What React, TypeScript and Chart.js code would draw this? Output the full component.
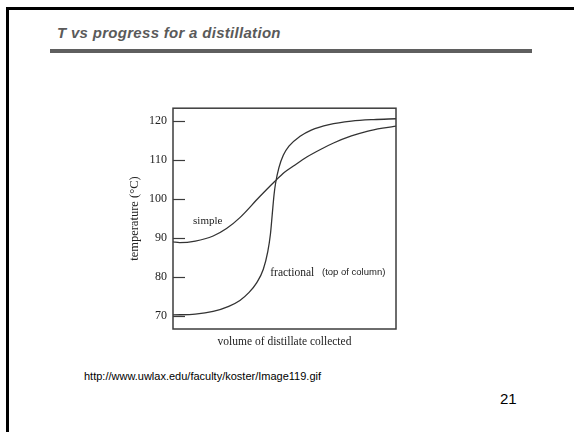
import React, { useEffect, useRef } from "react";
import { Chart, registerables } from "chart.js";

Chart.register(...registerables);

const TITLE = "T vs progress for a distillation";
const SOURCE = "http://www.uwlax.edu/faculty/koster/Image119.gif";
const PAGE = "21";
const X_TITLE = "volume of distillate collected";
const Y_TITLE = "temperature (°C)";
const Y_TICKS = [70, 80, 90, 100, 110, 120];

// x: share of distillate collected (0-100, unitless), T in °C
const simpleX = [0, 3, 10, 18, 24, 30, 38.6, 45.7, 50, 54, 60, 67, 72, 80, 87, 94, 100];
const simpleT = [89, 88.8, 89.2, 90.5, 92.4, 95.2, 100.4, 104.5, 106.8, 108.4, 110.7, 112.9, 114.3, 116.1, 117.3, 118.1, 118.6];

const fracX = [0, 10, 18, 25, 30, 34, 37.5, 40.5, 42.5, 43.7, 44.5, 45.3, 46, 47.5, 49.5, 52, 57, 62, 70, 80, 90, 100];
const fracT = [70.3, 70.5, 71.2, 72.5, 74, 76, 78.5, 82, 86.5, 91, 96, 101, 104, 108, 111.2, 113.5, 116, 117.6, 119, 119.9, 120.3, 120.5];

const SERIF = '"Liberation Serif", "DejaVu Serif", serif';
const SANS = '"Liberation Sans", Arial, sans-serif';

const CURVE_LABELS = [
  { text: "simple", x: 9, y: 94.4, font: `11px ${SERIF}` },
  { text: "fractional", x: 43.6, y: 81.1, font: `11.5px ${SERIF}` },
  { text: "(top of column)", x: 66.8, y: 81.1, font: `9.5px ${SANS}` },
];

const framePlugin = {
  id: "frameAndTicks",
  afterDatasetsDraw(chart: any) {
    const { ctx, chartArea, scales } = chart;
    const { left, top, right, bottom } = chartArea;
    const y = scales.y;
    const x = scales.x;
    ctx.save();
    ctx.strokeStyle = "#3c3c3c";
    ctx.lineWidth = 1.5;
    ctx.strokeRect(left, top, right - left, bottom - top);
    ctx.lineWidth = 1.2;
    Y_TICKS.forEach((v) => {
      const py = Math.round(y.getPixelForValue(v)) + 0.5;
      ctx.beginPath();
      ctx.moveTo(left, py);
      ctx.lineTo(left + 12, py);
      ctx.stroke();
    });
    ctx.fillStyle = "#222";
    ctx.textBaseline = "middle";
    ctx.textAlign = "left";
    CURVE_LABELS.forEach((l) => {
      ctx.font = l.font;
      ctx.fillText(l.text, x.getPixelForValue(l.x), y.getPixelForValue(l.y));
    });
    ctx.restore();
  },
};

function DistillationChart() {
  const ref = useRef<HTMLCanvasElement | null>(null);
  useEffect(() => {
    if (!ref.current) return;
    const chart = new Chart(ref.current, {
      type: "line",
      data: {
        datasets: [
          {
            label: "simple",
            data: simpleX.map((v, i) => ({ x: v, y: simpleT[i] })),
            borderColor: "#333",
            borderWidth: 1.3,
            pointRadius: 0,
            cubicInterpolationMode: "monotone",
            fill: false,
          },
          {
            label: "fractional",
            data: fracX.map((v, i) => ({ x: v, y: fracT[i] })),
            borderColor: "#333",
            borderWidth: 1.3,
            pointRadius: 0,
            cubicInterpolationMode: "monotone",
            fill: false,
          },
        ],
      },
      options: {
        responsive: false,
        animation: false,
        layout: { padding: { top: 13, right: 24, left: 0, bottom: 0 } },
        plugins: { legend: { display: false }, tooltip: { enabled: false } },
        scales: {
          x: {
            type: "linear",
            min: 0,
            max: 100,
            grid: { display: false, drawTicks: false, tickLength: 0 },
            border: { display: false },
            ticks: { display: false },
            title: {
              display: true,
              text: X_TITLE,
              color: "#222",
              font: { family: SERIF, size: 11.5 },
              padding: { top: 0, bottom: 11 },
            },
            afterFit: (s: any) => {
              s.height = 31;
            },
          },
          y: {
            type: "linear",
            min: 66.7,
            max: 123.2,
            grid: { display: false, drawTicks: false, tickLength: 0 },
            border: { display: false },
            afterBuildTicks: (s: any) => {
              s.ticks = Y_TICKS.map((v) => ({ value: v }));
            },
            ticks: {
              color: "#222",
              padding: 6,
              font: { family: SERIF, size: 12 },
            },
            title: {
              display: true,
              text: Y_TITLE,
              color: "#222",
              font: { family: SERIF, size: 12.5 },
              padding: { top: 7, bottom: 0 },
            },
            afterFit: (s: any) => {
              s.width = 53;
            },
          },
        },
      },
      plugins: [framePlugin],
    } as any);
    return () => chart.destroy();
  }, []);
  return (
    <canvas
      ref={ref}
      width={300}
      height={265}
      style={{ position: "absolute", left: 120, top: 95, width: 300, height: 265 }}
    />
  );
}

export default function App() {
  return (
    <div
      style={{
        position: "fixed",
        left: 0,
        top: 0,
        width: 574,
        height: 432,
        overflow: "hidden",
        background: "#fff",
      }}
    >
      <div
        style={{
          position: "absolute",
          left: 6,
          top: 7,
          width: 640,
          height: 500,
          border: "3px solid #000",
        }}
      />
      <div
        style={{
          position: "absolute",
          left: 57,
          top: 24,
          fontFamily: SANS,
          fontSize: 15,
          lineHeight: "17px",
          letterSpacing: "0.3px",
          fontWeight: "bold",
          fontStyle: "italic",
          color: "#5a5a5a",
          whiteSpace: "nowrap",
        }}
      >
        {TITLE}
      </div>
      <div
        style={{
          position: "absolute",
          left: 50,
          top: 49,
          width: 482,
          height: 4,
          background: "#5f5f5f",
        }}
      />
      <DistillationChart />
      <div
        style={{
          position: "absolute",
          left: 84,
          top: 370,
          fontFamily: SANS,
          fontSize: 11,
          lineHeight: "13px",
          color: "#000",
          whiteSpace: "nowrap",
        }}
      >
        {SOURCE}
      </div>
      <div
        style={{
          position: "absolute",
          left: 500,
          top: 390,
          fontFamily: SANS,
          fontSize: 15,
          lineHeight: "17px",
          color: "#000",
        }}
      >
        {PAGE}
      </div>
    </div>
  );
}
